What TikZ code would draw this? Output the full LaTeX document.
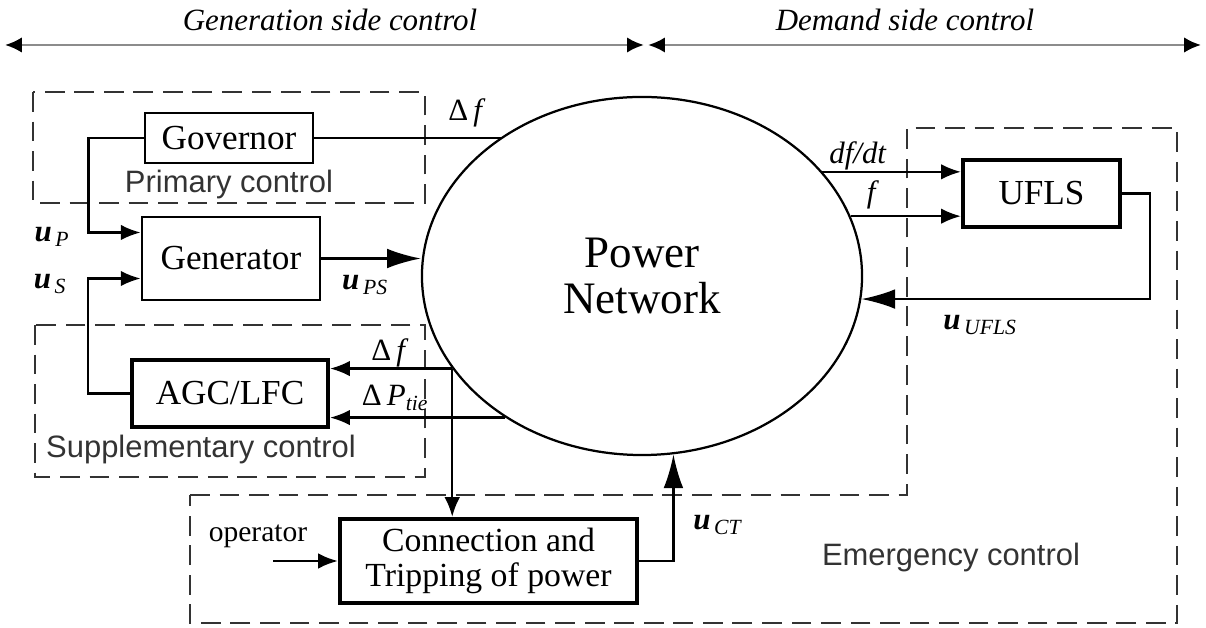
\documentclass[tikz,border=0pt]{standalone}
\usepackage{fontspec}
\setmainfont{Liberation Serif}
\setsansfont{Liberation Sans}
\usetikzlibrary{shapes.geometric,arrows.meta,positioning}
\newcommand{\usig}[1]{\textbf{\textit{u}}\textsubscript{\,\textit{#1}}}
\tikzstyle{block} = [draw, line width=2pt, minimum height=1.25cm, font=\fontsize{25}{28}\selectfont, inner sep=2pt]
\tikzstyle{thickblock} = [block, line width=3pt]
\tikzstyle{ctrlzone} = [draw=black!80, line width=1.5pt, dash pattern=on 14pt off 7pt]
\tikzstyle{zonelabel} = [font=\sffamily\fontsize{22}{24}\selectfont, text=black!80]
\tikzstyle{siglabel} = [font=\fontsize{22}{24}\selectfont]
\tikzset{
  wire/.style ={draw, line width=1.6pt},
  line/.style ={wire, -{Latex[length=14pt,width=11pt]}},
  bigline/.style ={wire, -{Latex[length=24pt,width=14pt]}},
  span/.style ={draw=black!45, line width=1.8pt, {Latex[black,length=12pt,width=11pt]}-{Latex[black,length=12pt,width=11pt]}}
}

\begin{document}
\begin{tikzpicture}[x=0.025cm, y=-0.025cm]
 \useasboundingbox (0,0) rectangle (1206,628);
 % control zones
 \draw[ctrlzone] (33,92) rectangle (425,203);
 \draw[ctrlzone] (35,325) rectangle (425,477);
 \draw[ctrlzone] (190,495) -- (907,495) -- (907,128) -- (1177,128) -- (1177,623) -- (190,623) -- cycle;
 \node[zonelabel] (primlbl) at (229,185) {Primary control};
 \node[zonelabel] (supplbl) at (201,450) {Supplementary control};
 \node[zonelabel] (emerlbl) at (951,558) {Emergency control};

 % sides
 \coordinate (sideL) at (5,45);
 \coordinate (sideM) at (646,45);
 \coordinate (sideR) at (1201,45);
 \draw[span] (sideL) -- ([xshift=-1.5pt]sideM);
 \draw[span] ([xshift=1.5pt]sideM) -- (sideR);
 \node[siglabel, font=\itshape\fontsize{22}{24}\selectfont] (genside) at (330,20) {Generation side control};
 \node[siglabel, font=\itshape\fontsize{22}{24}\selectfont] (demside) at (905,20) {Demand side control};

 % blocks
 \node[draw, ellipse, line width=1.6pt, minimum width=11cm, minimum height=8.95cm,
       align=center, font=\fontsize{32}{33}\selectfont] (net) at (642,276) {Power\\Network};
 \node[block, minimum width=4.2cm] (governor) at (229,138) {Governor};
 \node[block, minimum width=4.45cm, minimum height=2.075cm] (generator) at (231,258.5) {Generator};
 \node[thickblock, minimum width=4.9cm, minimum height=1.675cm] (agc) at (230,393.5) {AGC/LFC};
 \node[thickblock, minimum width=3.925cm, minimum height=1.675cm] (ufls) at (1041.5,193.5) {UFLS};
 \node[thickblock, minimum width=7.425cm, minimum height=2.1cm, align=center,
       font=\fontsize{24}{25}\selectfont] (conn) at (488.5,561) {Connection and\\Tripping of power};
 \coordinate (op) at (273,561);
 \node[siglabel, font=\fontsize{21}{24}\selectfont] (oplbl) at (258,536) {operator};

 % connectors
 \draw[wire] (governor.east) -- (governor.east -| net.135);
 \draw[line] (governor.west) -- ++(-55,0) |- ([yshift=0.65cm]generator.west);
 \draw[line] (agc.west) -- ++(-42,0) |- ([yshift=-0.5cm]generator.west);
 \draw[bigline] (generator.east) -- (generator.east -| net.west);
 \draw[line] (net.206) -- (net.206 -| agc.east);
 \draw[line] (net.226) -- (net.226 -| agc.east);
 \draw[line] (net.206) -- (net.206 |- conn.north);
 \draw[line] (op) -- (conn.west);
 \draw[bigline] (conn.east) -| (net.280);
 \draw[line] (net.30) -- (net.30 -| ufls.west);
 \draw[line] (net.16) -- (net.16 -| ufls.west);
 \draw[bigline] (ufls.east) -- ++(28,0) |- (net.-6);

 % signal labels
 \node[siglabel] (dfgov) at (467,113) {Δ\,\textit{f}};
 \node[siglabel] (up) at (52,237) {\usig{P}};
 \node[siglabel] (us) at (50,284) {\usig{S}};
 \node[siglabel] (ups) at (365,285) {\usig{PS}};
 \node[siglabel] (dfagc) at (390,353) {Δ\,\textit{f}};
 \node[siglabel] (dptie) at (395,398) {Δ\,\textit{P}\textsubscript{\textit{tie}}};
 \node[siglabel] (dfdt) at (858,156) {\textit{df/dt}};
 \node[siglabel] (fsig) at (873,195) {\textit{f}};
 \node[siglabel] (uufls) at (980,325) {\usig{UFLS}};
 \node[siglabel] (uct) at (718,525) {\usig{CT}};
\end{tikzpicture}
\end{document}
